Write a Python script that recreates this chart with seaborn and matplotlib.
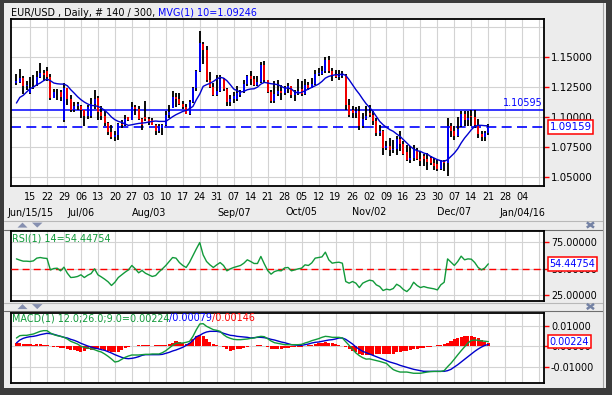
import numpy as np
import pandas as pd
import matplotlib
matplotlib.use("Agg")
import matplotlib.pyplot as plt
import matplotlib.transforms as mtransforms
from matplotlib.patches import Rectangle, Polygon
from matplotlib.lines import Line2D
import seaborn as sns

sns.set_style("white")
plt.rcParams["font.family"] = ["DejaVu Sans"]
plt.rcParams["axes.unicode_minus"] = False

# ---------------- data (trading days 2015-06-09 .. 2015-12-21) ----------------
dates = pd.bdate_range("2015-06-09", "2015-12-21")

opens = [1.1280, 1.1290, 1.1320, 1.1255,
         1.1200, 1.1238, 1.1270, 1.1335, 1.1367,
         1.1380, 1.1333, 1.1157, 1.1203, 1.1204,
         1.0970, 1.1236, 1.1147, 1.1060, 1.1087,
         1.1090, 1.1058, 1.1005, 1.1010, 1.1110,
         1.1160, 1.1040, 1.1004, 1.0951, 1.0872,
         1.0828, 1.0845, 1.0937, 1.0930, 1.0995,
         1.0975, 1.1085, 1.1063, 1.0985, 1.1000,
         1.0983, 1.0975, 1.0935, 1.0880, 1.0910,
         1.0930, 1.1018, 1.1075, 1.1161, 1.1151,
         1.1104, 1.1082, 1.1024, 1.1121, 1.1240,
         1.1385, 1.1610, 1.1560, 1.1310, 1.1247,
         1.1183, 1.1212, 1.1313, 1.1231, 1.1120,
         1.1147, 1.1150, 1.1185, 1.1206, 1.1273,
         1.1339, 1.1317, 1.1264, 1.1288, 1.1432,
         1.1302, 1.1205, 1.1133, 1.1188, 1.1218,
         1.1195, 1.1240, 1.1255, 1.1178, 1.1195,
         1.1230, 1.1191, 1.1263, 1.1242, 1.1276,
         1.1358, 1.1360, 1.1385, 1.1475, 1.1381,
         1.1348, 1.1327, 1.1343, 1.1345, 1.1100,
         1.1060, 1.1030, 1.1050, 1.0924, 1.0985,
         1.1035, 1.1015, 1.0964, 1.0864, 1.0880,
         1.0738, 1.0752, 1.0720, 1.0729, 1.0814,
         1.0769, 1.0710, 1.0641, 1.0655, 1.0720,
         1.0647, 1.0672, 1.0645, 1.0660, 1.0612,
         1.0610, 1.0564, 1.0633, 1.0613, 1.0925,
         1.0880, 1.0836, 1.0920, 1.1025, 1.0970,
         1.1010, 1.0995, 1.0929, 1.0860, 1.0833,
         1.0866]

highs = [1.1356, 1.1397, 1.1336, 1.1300,
         1.1328, 1.1344, 1.1383, 1.1447, 1.1392,
         1.1411, 1.1356, 1.1233, 1.1233, 1.1225,
         1.1278, 1.1239, 1.1183, 1.1119, 1.1122,
         1.1100, 1.1060, 1.1100, 1.1156, 1.1219,
         1.1175, 1.1086, 1.1044, 1.0960, 1.0933,
         1.0878, 1.0947, 1.0975, 1.1017, 1.1000,
         1.1119, 1.1100, 1.1086, 1.0989, 1.1128,
         1.0994, 1.0989, 1.0940, 1.0939, 1.0939,
         1.1044, 1.1094, 1.1211, 1.1197, 1.1197,
         1.1133, 1.1106, 1.1142, 1.1247, 1.1390,
         1.1714, 1.1625, 1.1590, 1.1369, 1.1281,
         1.1350, 1.1350, 1.1320, 1.1239, 1.1183,
         1.1206, 1.1253, 1.1225, 1.1308, 1.1350,
         1.1383, 1.1336, 1.1336, 1.1453, 1.1467,
         1.1310, 1.1225, 1.1294, 1.1308, 1.1267,
         1.1253, 1.1281, 1.1260, 1.1225, 1.1314,
         1.1294, 1.1314, 1.1286, 1.1322, 1.1392,
         1.1406, 1.1419, 1.1494, 1.1503, 1.1406,
         1.1392, 1.1392, 1.1378, 1.1360, 1.1147,
         1.1086, 1.1078, 1.1086, 1.1030, 1.1086,
         1.1094, 1.1050, 1.0989, 1.0928, 1.0892,
         1.0794, 1.0822, 1.0808, 1.0836, 1.0878,
         1.0794, 1.0767, 1.0753, 1.0767, 1.0740,
         1.0711, 1.0690, 1.0697, 1.0669, 1.0656,
         1.0642, 1.0642, 1.0642, 1.0989, 1.0950,
         1.0919, 1.0994, 1.1044, 1.1050, 1.1044,
         1.1059, 1.1059, 1.0983, 1.0878, 1.0878,
         1.0939]

lows = [1.1267, 1.1285, 1.1189, 1.1225,
        1.1189, 1.1233, 1.1253, 1.1322, 1.1294,
        1.1294, 1.1142, 1.1156, 1.1139, 1.1128,
        1.0955, 1.1100, 1.1036, 1.1036, 1.1058,
        1.0989, 1.0919, 1.0981, 1.0989, 1.1067,
        1.0975, 1.0975, 1.0919, 1.0850, 1.0817,
        1.0800, 1.0808, 1.0906, 1.0919, 1.0961,
        1.0972, 1.1017, 1.0969, 1.0892, 1.0961,
        1.0933, 1.0930, 1.0845, 1.0864, 1.0845,
        1.0919, 1.0989, 1.1072, 1.1078, 1.1094,
        1.1067, 1.1020, 1.1017, 1.1114, 1.1215,
        1.1370, 1.1440, 1.1290, 1.1239, 1.1169,
        1.1170, 1.1210, 1.1211, 1.1086, 1.1086,
        1.1114, 1.1128, 1.1161, 1.1200, 1.1253,
        1.1267, 1.1260, 1.1253, 1.1281, 1.1281,
        1.1197, 1.1114, 1.1114, 1.1169, 1.1142,
        1.1183, 1.1197, 1.1156, 1.1128, 1.1183,
        1.1169, 1.1185, 1.1225, 1.1239, 1.1267,
        1.1336, 1.1350, 1.1364, 1.1364, 1.1294,
        1.1322, 1.1308, 1.1322, 1.1060, 1.0994,
        1.0989, 1.0989, 1.0892, 1.0906, 1.0975,
        1.0994, 1.0933, 1.0836, 1.0836, 1.0683,
        1.0725, 1.0669, 1.0697, 1.0683, 1.0717,
        1.0683, 1.0628, 1.0611, 1.0628, 1.0642,
        1.0586, 1.0590, 1.0558, 1.0600, 1.0558,
        1.0550, 1.0558, 1.0544, 1.0503, 1.0828,
        1.0808, 1.0830, 1.0915, 1.0919, 1.0919,
        1.0919, 1.0906, 1.0822, 1.0794, 1.0800,
        1.0844]

closes = [1.1300, 1.1325, 1.1255, 1.1262,
          1.1238, 1.1245, 1.1335, 1.1367, 1.1350,
          1.1333, 1.1157, 1.1203, 1.1204, 1.1165,
          1.1236, 1.1147, 1.1060, 1.1087, 1.1109,
          1.1058, 1.1005, 1.1079, 1.1110, 1.1150,
          1.1040, 1.1004, 1.0951, 1.0872, 1.0828,
          1.0845, 1.0937, 1.0930, 1.0984, 1.0975,
          1.1085, 1.1063, 1.0985, 1.0934, 1.0983,
          1.0953, 1.0935, 1.0880, 1.0920, 1.0930,
          1.1018, 1.1040, 1.1161, 1.1151, 1.1104,
          1.1082, 1.1024, 1.1121, 1.1239, 1.1385,
          1.1615, 1.1560, 1.1310, 1.1247, 1.1183,
          1.1212, 1.1313, 1.1231, 1.1120, 1.1147,
          1.1170, 1.1201, 1.1206, 1.1273, 1.1339,
          1.1317, 1.1264, 1.1288, 1.1432, 1.1302,
          1.1205, 1.1133, 1.1188, 1.1218, 1.1195,
          1.1240, 1.1255, 1.1178, 1.1195, 1.1213,
          1.1191, 1.1263, 1.1242, 1.1276, 1.1358,
          1.1367, 1.1385, 1.1475, 1.1381, 1.1348,
          1.1327, 1.1343, 1.1345, 1.1100, 1.1018,
          1.1030, 1.1050, 1.0924, 1.0985, 1.1005,
          1.1015, 1.0964, 1.0864, 1.0880, 1.0738,
          1.0752, 1.0720, 1.0729, 1.0814, 1.0769,
          1.0686, 1.0641, 1.0655, 1.0733, 1.0647,
          1.0634, 1.0645, 1.0625, 1.0612, 1.0592,
          1.0564, 1.0633, 1.0613, 1.0925, 1.0880,
          1.0836, 1.0894, 1.1025, 1.0970, 1.0990,
          1.0995, 1.0929, 1.0860, 1.0833, 1.0866,
          1.09159]

mvg10 = [1.1114, 1.1161, 1.1178, 1.1206,
         1.1233, 1.1247, 1.1267, 1.1281, 1.1300,
         1.1314, 1.1300, 1.1281, 1.1275, 1.1272,
         1.1272, 1.1258, 1.1225, 1.1197, 1.1167,
         1.1142, 1.1122, 1.1106, 1.1094, 1.1092,
         1.1086, 1.1072, 1.1053, 1.1028, 1.0997,
         1.0975, 1.0961, 1.0953, 1.0939, 1.0928,
         1.0933, 1.0939, 1.0944, 1.0947, 1.0950,
         1.0956, 1.0961, 1.0964, 1.0961, 1.0961,
         1.0961, 1.0981, 1.1000, 1.1017, 1.1031,
         1.1044, 1.1053, 1.1067, 1.1086, 1.1142,
         1.1189, 1.1253, 1.1267, 1.1278, 1.1294,
         1.1314, 1.1328, 1.1322, 1.1300, 1.1267,
         1.1231, 1.1217, 1.1206, 1.1211, 1.1225,
         1.1231, 1.1233, 1.1247, 1.1272, 1.1286,
         1.1281, 1.1275, 1.1272, 1.1267, 1.1253,
         1.1239, 1.1239, 1.1231, 1.1206, 1.1197,
         1.1203, 1.1217, 1.1231, 1.1244, 1.1258,
         1.1272, 1.1294, 1.1322, 1.1336, 1.1344,
         1.1350, 1.1350, 1.1356, 1.1344, 1.1308,
         1.1267, 1.1225, 1.1189, 1.1147, 1.1108,
         1.1078, 1.1044, 1.1003, 1.0961, 1.0933,
         1.0911, 1.0892, 1.0878, 1.0856, 1.0836,
         1.0808, 1.0781, 1.0753, 1.0731, 1.0717,
         1.0711, 1.0697, 1.0689, 1.0669, 1.0656,
         1.0642, 1.0633, 1.0628, 1.0642, 1.0669,
         1.0697, 1.0733, 1.0781, 1.0822, 1.0856,
         1.0892, 1.0919, 1.0928, 1.0928, 1.0925,
         1.09246]

rsi14 = [59.2, 58.0, 57.0, 57.0,
         56.7, 57.3, 59.9, 60.5, 59.9,
         59.6, 48.7, 50.0, 50.3, 47.8,
         51.3, 45.5, 41.4, 41.7, 42.4,
         44.0, 41.4, 43.6, 45.2, 49.7,
         44.0, 42.0, 39.8, 37.3, 33.8,
         36.9, 41.4, 44.0, 46.5, 48.7,
         52.9, 49.7, 45.9, 48.1, 45.5,
         44.0, 42.4, 43.3, 46.8, 49.7,
         52.9, 56.7, 60.5, 59.9, 55.7,
         52.9, 51.0, 56.0, 62.4, 68.8,
         74.8, 63.0, 56.7, 53.5, 51.0,
         53.5, 55.7, 52.9, 47.8, 49.7,
         51.0, 51.9, 52.9, 55.1, 58.3,
         56.7, 54.8, 54.8, 61.5, 54.5,
         48.1, 44.6, 47.1, 48.1, 47.8,
         50.6, 51.0, 47.8, 48.7, 49.7,
         50.3, 53.5, 52.9, 55.4, 59.9,
         60.5, 61.1, 65.6, 58.3, 55.1,
         55.7, 56.0, 55.1, 37.6, 36.0,
         37.6, 36.0, 31.8, 36.0, 37.6,
         38.9, 38.2, 34.4, 32.8, 29.0,
         30.3, 29.6, 30.9, 35.0, 33.1,
         29.9, 28.0, 31.2, 36.9, 33.8,
         31.8, 32.8, 31.8, 31.2, 30.6,
         29.6, 34.4, 36.9, 59.2, 56.0,
         52.9, 56.7, 61.8, 58.3, 59.2,
         58.9, 55.7, 51.0, 48.7, 50.6,
         54.44754]

# MACD values in units of 0.001
macd_line = [4.00, 5.14, 5.30, 5.30,
             5.63, 5.95, 6.60, 7.25, 7.58,
             7.58, 6.44, 5.63, 5.14, 4.81,
             4.33, 3.51, 2.37, 1.72, 1.07,
             -0.07, -0.55, -0.88, -1.20, -1.69,
             -2.34, -2.83, -3.80, -4.94, -6.24,
             -7.71, -7.38, -6.41, -5.43, -4.78,
             -4.29, -4.29, -4.29, -4.13, -3.97,
             -3.97, -3.80, -3.80, -3.80, -3.15,
             -2.18, -0.88, 0.42, 1.40, 1.56,
             1.56, 1.89, 2.37, 4.81, 8.07,
             10.83, 10.99, 9.69, 8.88, 8.07,
             7.74, 7.25, 5.63, 4.49, 3.84,
             3.35, 3.19, 3.19, 3.35, 3.51,
             3.84, 4.00, 4.49, 4.81, 4.65,
             3.67, 2.54, 1.72, 1.40, 1.07,
             0.75, 0.75, 0.75, 0.75, 0.75,
             0.91, 1.56, 2.05, 2.70, 3.19,
             3.67, 4.33, 4.81, 4.65, 4.33,
             4.33, 4.33, 4.00, 2.20, 0.40,
             -1.50, -3.30, -4.60, -5.60, -6.30,
             -6.20, -6.60, -7.00, -7.40, -7.90,
             -8.40, -10.00, -11.40, -12.10, -12.60,
             -12.60, -12.60, -12.90, -13.20, -13.20,
             -13.20, -12.90, -12.60, -12.40, -12.30,
             -12.30, -12.30, -11.90, -10.00, -8.30,
             -6.30, -4.20, -2.20, -0.30, 1.60,
             2.80, 3.00, 2.90, 2.60, 2.40,
             2.24]

signal_line = [1.56, 3.02, 3.84, 4.33,
               4.65, 4.81, 5.14, 5.63, 5.95,
               6.28, 6.11, 5.79, 5.30, 4.81,
               4.33, 4.00, 3.35, 2.86, 2.21,
               1.40, 0.75, 0.10, -0.39, -0.88,
               -1.20, -1.69, -2.02, -2.67, -3.32,
               -4.13, -4.78, -5.43, -5.92, -6.08,
               -5.92, -5.59, -5.11, -4.46, -4.13,
               -4.13, -4.13, -4.13, -4.13, -3.97,
               -3.48, -2.99, -2.34, -1.85, -1.20,
               -0.55, 0.40, 1.40, 2.86, 4.65,
               5.30, 6.28, 6.93, 7.25, 7.25,
               7.25, 6.93, 6.28, 5.79, 5.30,
               5.14, 4.81, 4.65, 4.49, 4.33,
               4.00, 4.16, 4.33, 4.33, 4.16,
               3.84, 3.35, 3.02, 2.54, 2.05,
               1.72, 1.24, 0.75, 0.59, 0.42,
               0.42, 0.75, 1.07, 1.56, 1.89,
               2.05, 2.37, 2.70, 3.02, 3.19,
               3.51, 4.00, 4.00, 3.35, 2.21,
               1.07, -0.39, -1.53, -2.50, -3.15,
               -3.80, -4.46, -5.11, -5.76, -6.41,
               -7.06, -7.71, -8.20, -8.68, -9.34,
               -9.82, -10.31, -10.80, -11.28, -11.61,
               -11.93, -12.26, -12.26, -12.26, -12.26,
               -12.26, -12.26, -12.26, -11.93, -11.28,
               -10.15, -9.01, -7.71, -6.41, -5.11,
               -3.80, -2.50, -1.37, -0.39, 0.42,
               0.79]

histogram = [1.6, 1.6, 1.3, 1.0,
             1.0, 0.8, 1.0, 1.0, 0.8,
             0.5, 0.0, -0.5, -0.6, -0.8,
             -0.8, -1.3, -2.0, -2.0, -2.3,
             -2.6, -2.3, -1.6, -2.0, -1.3,
             -1.6, -1.6, -2.0, -2.3, -2.6,
             -2.9, -2.6, -2.0, -1.0, -0.5,
             0.0, 0.3, 0.6, 0.6, 0.5,
             0.5, 0.3, 0.5, 0.5, 0.5,
             0.6, 1.0, 1.6, 2.3, 2.0,
             1.6, 1.3, 1.6, 3.6, 4.9,
             5.7, 5.2, 3.6, 2.0, 1.0,
             0.5, 0.2, -0.5, -1.6, -2.3,
             -2.0, -1.6, -1.3, -0.8, -0.5,
             0.2, 0.3, 0.6, 0.8, 0.3,
             -0.5, -1.3, -1.6, -1.6, -1.3,
             -1.0, -0.8, -0.6, -0.5, -0.3,
             -0.2, 0.2, 0.5, 0.8, 1.1,
             1.5, 1.6, 2.0, 1.8, 1.6,
             1.3, 0.8, 0.2, -0.6, -1.6,
             -2.3, -2.9, -3.6, -4.1, -4.1,
             -4.1, -4.1, -3.8, -3.6, -3.6,
             -3.6, -3.8, -3.6, -3.0, -2.6,
             -2.4, -2.2, -1.8, -1.6, -1.4,
             -1.0, -0.8, -0.6, -0.2, 0.3,
             0.6, 0.8, 1.2, 1.6, 2.4,
             3.3, 4.2, 4.6, 5.2, 5.2,
             5.0, 4.6, 3.8, 2.8, 2.2,
             1.46]

week_dates = pd.date_range("2015-06-15", "2016-01-04", freq="W-MON")
week_labels = ["15", "22", "29", "06", "13", "20", "27", "03", "10", "17", "24", "31",
               "07", "14", "21", "28", "05", "12", "19", "26", "02", "09", "16", "23",
               "30", "07", "14", "21", "28", "04"]
month_dates = ["2015-06-15", "2015-07-06", "2015-08-03", "2015-09-07",
               "2015-10-05", "2015-11-02", "2015-12-07", "2016-01-04"]
month_labels = ["Jun/15/15", "Jul/06", "Aug/03", "Sep/07", "Oct/05", "Nov/02",
                "Dec/07", "Jan/04/16"]
grid_dates = pd.date_range("2015-06-15", "2016-01-11", freq="W-MON")

resistance = 1.10595
last_close = 1.09159
last_rsi = 54.44754
macd_vals = (0.00224, 0.00079, 0.00146)

# ---------------- layout helpers ----------------
W, H = 612, 395
def rect_px(l, t, r, b):
    return [l / W, 1 - b / H, (r - l) / W, (b - t) / H]
def fx(x):
    return x / W
def fy(y):
    return 1 - y / H

origin = np.datetime64("2015-06-15")
def tday(d):
    return np.busday_count(origin, pd.DatetimeIndex(d).values.astype("datetime64[D]"))

x = tday(dates)
xw = tday(week_dates)
xm = tday(month_dates)
xg = tday(grid_dates)
XMIN, XMAX = -5.69, 151.4

o = np.array(opens); h = np.array(highs); l = np.array(lows); c = np.array(closes)
assert len(o) == len(x) == len(h) == len(l) == len(c) == len(mvg10) == len(rsi14)
assert len(macd_line) == len(x) == len(signal_line) == len(histogram)

RED = "#ff0000"
BLUE = "#0000ff"
GREEN = "#119a3a"
GRID = "#d3d3d3"

fig = plt.figure(figsize=(W / 100, H / 100), dpi=100, facecolor="#ececec")

ax = fig.add_axes(rect_px(10.7, 19.3, 544, 186))
ax_r = fig.add_axes(rect_px(10.7, 231, 544, 301))
ax_m = fig.add_axes(rect_px(10.7, 312.7, 544, 382.7))

# ---- price panel ----
ax.vlines(x, l, h, colors="black", linewidth=1.35, zorder=3)
body_col = [BLUE if cc >= oo else RED for oo, cc in zip(o, c)]
ax.vlines(x, o, c, colors=body_col, linewidth=1.35, zorder=4)
sns.lineplot(x=x, y=mvg10, ax=ax, color="#0000d0", linewidth=1.0, zorder=5)
ax.axhline(resistance, color=BLUE, linewidth=1.1, zorder=2)
ax.axhline(last_close, color=BLUE, linewidth=1.2, linestyle=(0, (6, 3.2)), zorder=2)
ax.axhline(1.175, color=GRID, linewidth=0.8, zorder=0)

# ---- RSI panel ----
sns.lineplot(x=x, y=rsi14, ax=ax_r, color=GREEN, linewidth=1.0, zorder=4)
ax_r.axhline(50, color=RED, linewidth=1.0, linestyle=(0, (5, 3)), zorder=3)

# ---- MACD panel ----
ax_m.bar(x, np.array(histogram) / 1000, width=0.9, color=RED, linewidth=0, zorder=2)
sns.lineplot(x=x, y=np.array(signal_line) / 1000, ax=ax_m, color="#0000cc", linewidth=1.0, zorder=4)
sns.lineplot(x=x, y=np.array(macd_line) / 1000, ax=ax_m, color=GREEN, linewidth=1.0, zorder=5)

def style(a, ylim, yt, ylab, fs):
    a.set_facecolor("white")
    a.set_xlim(XMIN, XMAX)
    a.set_ylim(*ylim)
    a.set_xticks(xg)
    a.set_yticks(yt)
    a.set_yticklabels(ylab)
    a.yaxis.tick_right()
    a.tick_params(axis="x", length=0, labelbottom=False)
    a.tick_params(axis="y", direction="out", length=3.5, width=1.0, color=RED,
                  labelcolor="black", labelsize=fs, pad=1.5, left=False, right=True)
    a.grid(True, color=GRID, linewidth=0.8)
    a.set_axisbelow(True)
    for s in a.spines.values():
        s.set_color("black")
        s.set_linewidth(1.3)
    a.set_xlabel("")
    a.set_ylabel("")

pt = [1.05, 1.075, 1.10, 1.125, 1.15]
style(ax, (1.04225, 1.1812), pt, ["%.5f" % v for v in pt], 7.4)
style(ax_r, (19.0, 85.8), [25, 50, 75], ["25.00000", "50.00000", "75.00000"], 6.9)
style(ax_m, (-0.0178, 0.01634), [-0.01, 0.0, 0.01], ["-0.01000", "0.00000", "0.01000"], 6.9)

# value boxes
def value_box(a, y, txt, fs):
    tr = mtransforms.blended_transform_factory(fig.transFigure, a.transData)
    a.text(fx(549.5), y, txt, transform=tr, color=BLUE, fontsize=fs, ha="left",
           va="center", zorder=10, clip_on=False,
           bbox=dict(boxstyle="square,pad=0.18", facecolor="white", edgecolor=RED, linewidth=1.1))

value_box(ax, last_close, "%.5f" % last_close, 7.4)
value_box(ax_r, last_rsi, "%.5f" % last_rsi, 6.9)
value_box(ax_m, macd_vals[0], "%.5f" % macd_vals[0], 6.9)

ax.annotate("%.5f" % resistance, xy=(XMAX - 0.3, resistance), xytext=(0, 0.8),
            textcoords="offset points", ha="right", va="bottom", color=BLUE, fontsize=6.9)

# x labels (two rows)
trx = mtransforms.blended_transform_factory(ax.transData, fig.transFigure)
for xx, lab in zip(xw, week_labels):
    fig.text(xx, fy(197.5), lab, transform=trx, ha="center", va="center", fontsize=6.9, color="black")
for xx, lab in zip(xm, month_labels):
    fig.text(xx, fy(212.5), lab, transform=trx, ha="center", va="center", fontsize=6.9, color="black")

# titles / legends
t1 = fig.text(fx(10.5), fy(12.5), "EUR/USD , Daily, # 140 / 300, ", ha="left", va="center",
              fontsize=6.9, color="black")
ax.annotate("MVG(1) 10=1.09246", xy=(1, 0), xycoords=t1, ha="left", va="bottom",
            fontsize=6.9, color=BLUE, annotation_clip=False)
fig.text(fx(11.5), fy(238.5), "RSI(1) 14=54.44754", ha="left", va="center", fontsize=6.9, color=GREEN)
m1 = fig.text(fx(11.5), fy(318.5), "MACD(1) 12.0;26.0;9.0=%.5f" % macd_vals[0], ha="left",
              va="center", fontsize=6.9, color=GREEN)
m2 = ax_m.annotate("/%.5f" % macd_vals[1], xy=(1, 0), xycoords=m1, ha="left", va="bottom",
                   fontsize=6.9, color=BLUE, annotation_clip=False)
ax_m.annotate("/%.5f" % macd_vals[2], xy=(1, 0), xycoords=m2, ha="left", va="bottom",
              fontsize=6.9, color=RED, annotation_clip=False)

# ---- chrome: frame, separators, icons ----
dark = "#3b3b3b"
for (x0, y0, x1, y1) in [(0, 0, 4, H), (606, 0, W, H), (0, 0, W, 3), (0, 388, W, H)]:
    fig.add_artist(Rectangle((fx(x0), fy(y1)), (x1 - x0) / W, (y1 - y0) / H,
                             transform=fig.transFigure, facecolor=dark, edgecolor="none", zorder=20))
fig.add_artist(Line2D([fx(602.5), fx(602.5)], [fy(3), fy(388)], transform=fig.transFigure,
                      color="#a6a6a6", linewidth=0.8, zorder=1))
for yy, col in [(221, "#b8b8b8"), (230, "#6e6e6e"), (302.5, "#b8b8b8"), (311, "#6e6e6e")]:
    fig.add_artist(Line2D([fx(4), fx(602.5)], [fy(yy), fy(yy)], transform=fig.transFigure,
                          color=col, linewidth=0.8, zorder=-1))

icon = "#8690b0"
for yc in (225, 306.5):
    up = [(17.5, yc + 2.6), (27.5, yc + 2.6), (22.5, yc - 2.4)]
    dn = [(32.0, yc - 2.4), (42.5, yc - 2.4), (37.25, yc + 2.6)]
    for tri in (up, dn):
        fig.add_artist(Polygon([(fx(a), fy(b)) for a, b in tri], closed=True,
                               transform=fig.transFigure, facecolor=icon, edgecolor="none"))
    for (a0, b0, a1, b1) in [(586.8, yc - 2.6, 594, yc + 2.6), (586.8, yc + 2.6, 594, yc - 2.6)]:
        fig.add_artist(Line2D([fx(a0), fx(a1)], [fy(b0), fy(b1)], transform=fig.transFigure,
                              color="#7482a4", linewidth=1.8, solid_capstyle="butt"))

fig.savefig("out.png", dpi=100, facecolor=fig.get_facecolor())
